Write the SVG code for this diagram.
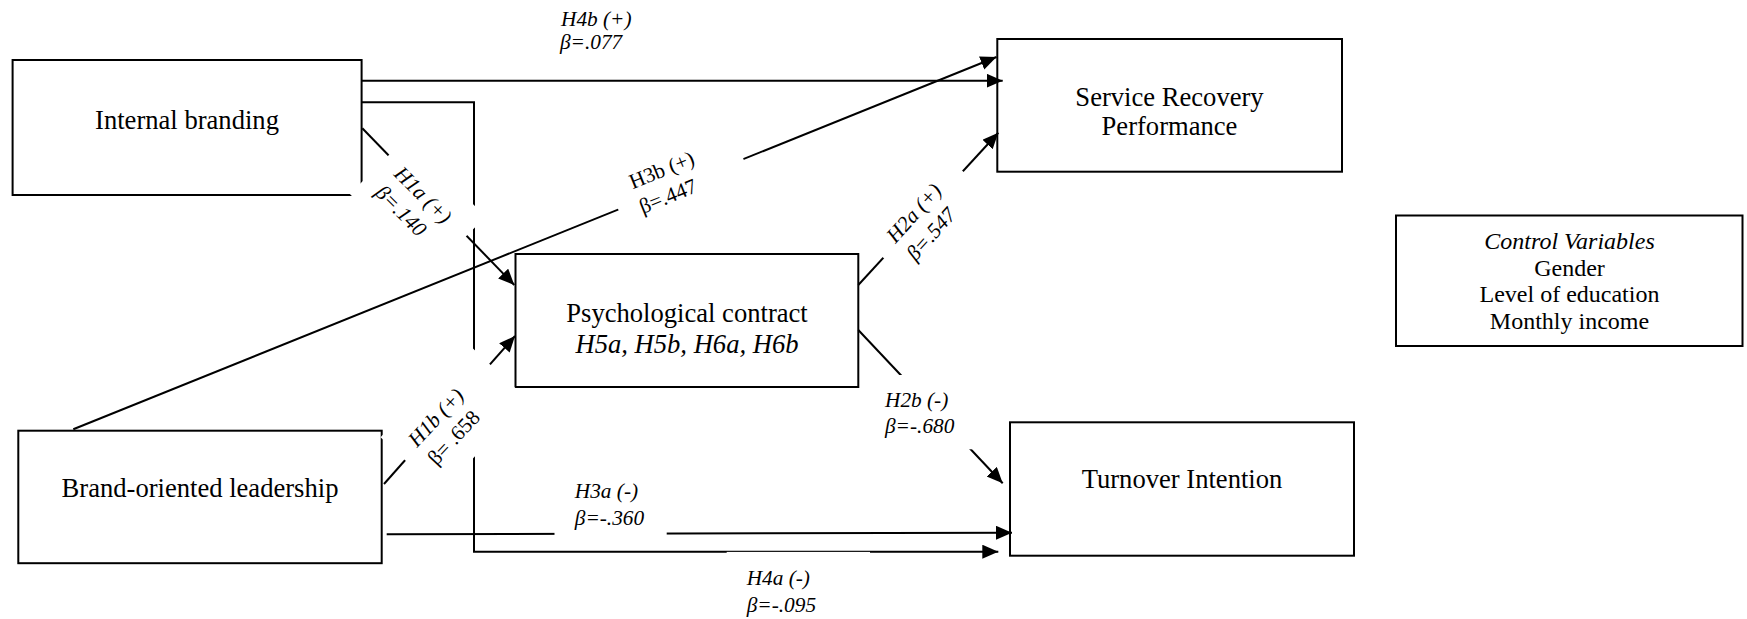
<svg xmlns="http://www.w3.org/2000/svg" width="1747" height="619" viewBox="0 0 1747 619">
  <style>
    .box { fill: #fff; stroke: #000; stroke-width: 2; }
    .node { font-family: "Liberation Serif", "Times New Roman", serif; font-size: 26.6px; fill: #000; text-anchor: middle; }
    .ctl { font-family: "Liberation Serif", "Times New Roman", serif; font-size: 24px; fill: #000; text-anchor: middle; }
    .it { font-style: italic; }
    .edge { fill: none; stroke: #000; stroke-width: 2; }
    .arr { marker-end: url(#head); }
    .lbl { font-family: "Liberation Serif", "Times New Roman", serif; font-size: 21.3px; fill: #000; }
    .bg { fill: #fff; stroke: none; }
  </style>
  <defs>
    <marker id="head" markerUnits="userSpaceOnUse" markerWidth="17" markerHeight="15" refX="16" refY="7" orient="auto">
      <path d="M0,0 L16,7 L0,14 Z" fill="#000"/>
    </marker>
  </defs>

  <rect width="1747" height="619" fill="#fff"/>

  <!-- Nodes -->
  <g id="internal-branding">
    <rect class="box" x="12.6" y="60" width="349" height="135"/>
    <text class="node" x="187" y="129.3">Internal branding</text>
  </g>
  <g id="service-recovery">
    <rect class="box" x="997.3" y="39" width="344.7" height="132.7"/>
    <text class="node" x="1169.5" y="106">Service Recovery</text>
    <text class="node" x="1169.5" y="135">Performance</text>
  </g>
  <g id="psychological-contract">
    <rect class="box" x="515.5" y="254" width="342.8" height="133"/>
    <text class="node" x="687" y="321.7">Psychological contract</text>
    <text class="node it" x="687" y="353.3">H5a, H5b, H6a, H6b</text>
  </g>
  <g id="control-variables">
    <rect class="box" x="1396" y="215.5" width="346.5" height="130.5"/>
    <text class="ctl it" x="1569.5" y="249">Control Variables</text>
    <text class="ctl" x="1569.5" y="275.5">Gender</text>
    <text class="ctl" x="1569.5" y="302">Level of education</text>
    <text class="ctl" x="1569.5" y="328.5">Monthly income</text>
  </g>
  <g id="brand-oriented-leadership">
    <rect class="box" x="18.3" y="430.7" width="363.4" height="132.5"/>
    <text class="node" x="200" y="496.7">Brand-oriented leadership</text>
  </g>
  <g id="turnover-intention">
    <rect class="box" x="1010" y="422.3" width="344" height="133.4"/>
    <text class="node" x="1182" y="488.3">Turnover Intention</text>
  </g>

  <!-- Connectors -->
  <g id="connectors">
    <path class="edge arr" d="M361.7,80.7 H1002.7"/>
    <path class="edge arr" d="M361.7,102.3 H474 V551.7 H998.3"/>
    <path class="edge arr" d="M362.3,128.3 L514.3,285"/>
    <path class="edge arr" d="M384,484 L515,336"/>
    <path class="edge arr" d="M73.3,429.3 L996.5,57"/>
    <path class="edge arr" d="M858.3,285 L998.3,132.7"/>
    <path class="edge arr" d="M858.3,330 L1002.7,483.3"/>
    <path class="edge arr" d="M386.7,534.3 L1012,532.7"/>
  </g>

  <!-- Path labels -->
  <g id="edge-labels">
    <g id="label-h4b">
      <text class="lbl it" x="561" y="26">H4b (+)</text>
      <text class="lbl it" x="560" y="49.3">β=.077</text>
    </g>
    <g id="label-h1a" transform="translate(393,175) rotate(45)">
      <rect class="bg" x="-17" y="-36" width="112" height="80"/>
      <text class="lbl it" x="0" y="0">H1a (+)</text>
      <text class="lbl it" x="0" y="26.7">β=.140</text>
    </g>
    <g id="label-h1b" transform="translate(417,448.1) rotate(-47)">
      <rect class="bg" x="-17" y="-34" width="128" height="82"/>
      <text class="lbl it" x="0" y="0">H1b (+)</text>
      <text class="lbl" x="0" y="26.7">β= .658</text>
    </g>
    <g id="label-h3b" transform="translate(632.7,189.3) rotate(-22)">
      <rect class="bg" x="-21" y="-20" width="135" height="55"/>
      <text class="lbl" x="0" y="0">H3b (+)</text>
      <text class="lbl" x="0" y="26.7">β=.447</text>
    </g>
    <g id="label-h2a" transform="translate(895.6,243.9) rotate(-48)">
      <rect class="bg" x="-18.5" y="-20" width="117.5" height="55"/>
      <text class="lbl it" x="0" y="0">H2a (+)</text>
      <text class="lbl it" x="0" y="26.7">β=.547</text>
    </g>
    <g id="label-h2b">
      <rect class="bg" x="880" y="375" width="95" height="74.3"/>
      <text class="lbl it" x="885" y="406.7">H2b (-)</text>
      <text class="lbl it" x="885" y="433.3">β=-.680</text>
    </g>
    <g id="label-h3a">
      <rect class="bg" x="554.5" y="478" width="112.2" height="63"/>
      <text class="lbl it" x="574.8" y="498.3">H3a (-)</text>
      <text class="lbl it" x="574.8" y="525">β=-.360</text>
    </g>
    <g id="label-h4a">
      <rect class="bg" x="726.7" y="551.9" width="143.3" height="66"/>
      <text class="lbl it" x="746.7" y="585">H4a (-)</text>
      <text class="lbl it" x="746.7" y="611.7">β=-.095</text>
    </g>
  </g>
</svg>
